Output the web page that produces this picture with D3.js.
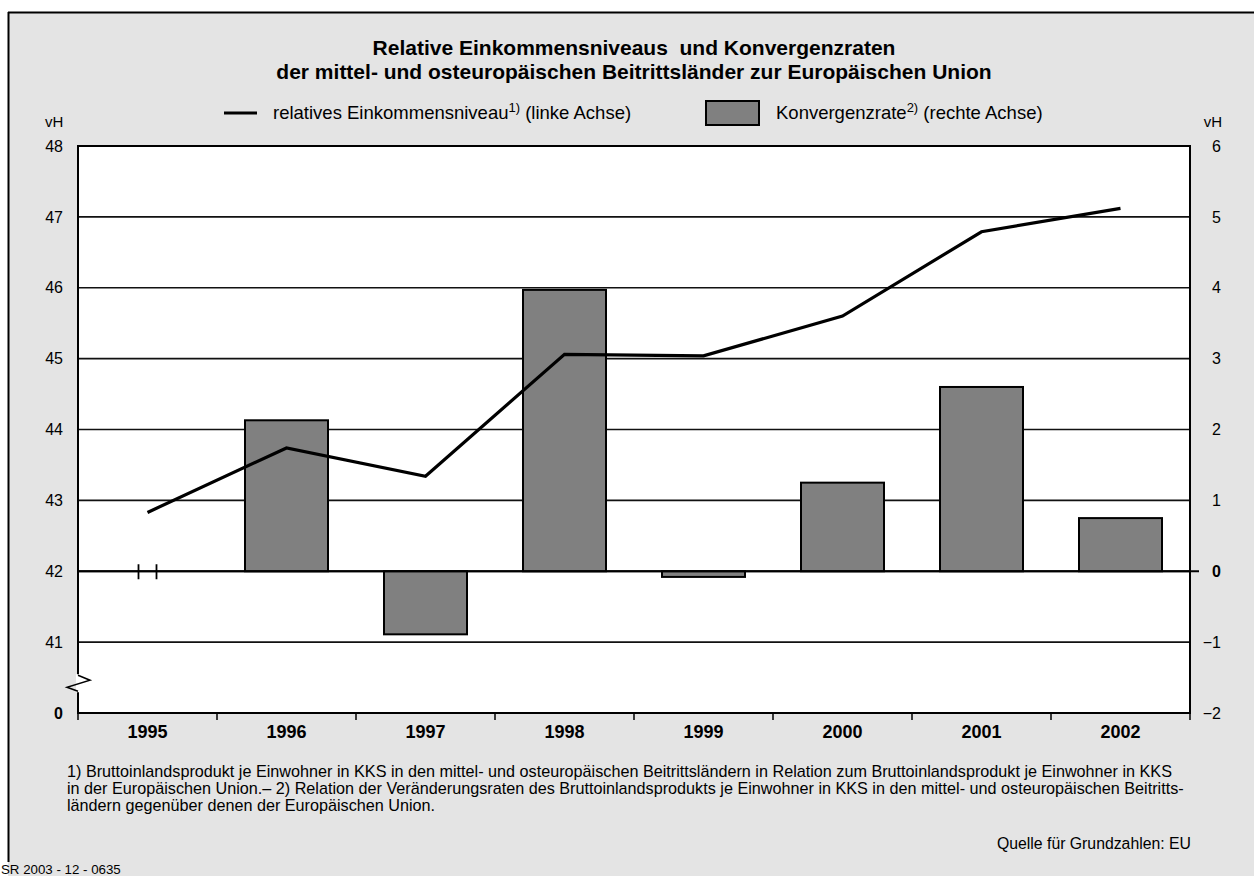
<!DOCTYPE html>
<html>
<head>
<meta charset="utf-8">
<script src="https://cdn.jsdelivr.net/npm/d3@7"></script>
<style>
  html, body { margin: 0; padding: 0; background: #fff; }
  svg { display: block; font-family: "Liberation Sans", Arial, Helvetica, sans-serif; }
</style>
</head>
<body>
<div id="chart"></div>
<script>
const years = ["1995", "1996", "1997", "1998", "1999", "2000", "2001", "2002"];
// relatives Einkommensniveau (linke Achse, vH)
const level = [42.83, 43.74, 43.34, 45.06, 45.04, 45.60, 46.79, 47.12];
// Konvergenzrate (rechte Achse, vH); 1995 ohne Wert
const rate = [null, 2.13, -0.89, 3.97, -0.08, 1.25, 2.60, 0.75];
const leftTicks = [40, 41, 42, 43, 44, 45, 46, 47, 48];
const leftTickLabels = ["0", "41", "42", "43", "44", "45", "46", "47", "48"];
const rightTicks = [-2, -1, 0, 1, 2, 3, 4, 5, 6];

const W = 1254, H = 876;
const plot = { left: 78, right: 1190, top: 146, bottom: 713 };
const FONT = "Liberation Sans, Arial, sans-serif";

const svg = d3.select("#chart").append("svg").attr("width", W).attr("height", H);

// background panel and frame
svg.append("rect").attr("x", 8).attr("y", 12).attr("width", W - 8).attr("height", H - 12).attr("fill", "#e4e4e4");
svg.append("line").attr("x1", 8).attr("x2", W).attr("y1", 12.5).attr("y2", 12.5).attr("stroke", "#000").attr("stroke-width", 2);
svg.append("line").attr("x1", 8.5).attr("x2", 8.5).attr("y1", 12).attr("y2", 862).attr("stroke", "#000").attr("stroke-width", 2);

const x = d3.scaleBand().domain(years).range([plot.left, plot.right]);
const yL = d3.scaleLinear().domain([40, 48]).range([plot.bottom, plot.top]);
const yR = d3.scaleLinear().domain([-2, 6]).range([plot.bottom, plot.top]);

// title
const title = svg.append("text").attr("x", 634).attr("text-anchor", "middle")
  .style("font-weight", "bold").style("font-size", "21px").style("white-space", "pre");
title.append("tspan").attr("x", 634).attr("y", 55).text("Relative Einkommensniveaus  und Konvergenzraten");
title.append("tspan").attr("x", 634).attr("y", 79).text("der mittel- und osteuropäischen Beitrittsländer zur Europäischen Union");

// legend
const lg = svg.append("g").style("font-size", "18.5px");
lg.append("line").attr("x1", 224).attr("x2", 257).attr("y1", 113).attr("y2", 113).attr("stroke", "#000").attr("stroke-width", 3);
const t1 = lg.append("text").attr("x", 273).attr("y", 119);
t1.append("tspan").text("relatives Einkommensniveau");
t1.append("tspan").attr("dy", -7).style("font-size", "13px").text("1)");
t1.append("tspan").attr("dy", 7).text(" (linke Achse)");
lg.append("rect").attr("x", 706).attr("y", 101).attr("width", 53).attr("height", 24)
  .attr("fill", "#808080").attr("stroke", "#000").attr("stroke-width", 2);
const t2 = lg.append("text").attr("x", 776).attr("y", 119);
t2.append("tspan").text("Konvergenzrate");
t2.append("tspan").attr("dy", -7).style("font-size", "13px").text("2)");
t2.append("tspan").attr("dy", 7).text(" (rechte Achse)");

// plot area
svg.append("rect").attr("x", plot.left).attr("y", plot.top)
  .attr("width", plot.right - plot.left).attr("height", plot.bottom - plot.top).attr("fill", "#fff");

// gridlines (left-axis integers inside the plot)
svg.append("g").selectAll("line").data(leftTicks.filter(d => d > 40 && d < 48)).join("line")
  .attr("x1", plot.left).attr("x2", plot.right)
  .attr("y1", d => yL(d)).attr("y2", d => yL(d))
  .attr("stroke", "#111").attr("stroke-width", d => d === 42 ? 2 : 1.6);

// bars on the right axis
const bw = 83;
svg.append("g").selectAll("rect").data(years.map((y, i) => ({ y, v: rate[i] })).filter(d => d.v !== null)).join("rect")
  .attr("x", d => x(d.y) + x.bandwidth() / 2 - bw / 2)
  .attr("y", d => yR(Math.max(0, d.v)))
  .attr("width", bw)
  .attr("height", d => Math.abs(yR(d.v) - yR(0)))
  .attr("fill", "#808080").attr("stroke", "#000").attr("stroke-width", 2);

// zero line on top of bars, with tick at right axis
svg.append("line").attr("x1", plot.left).attr("x2", plot.right + 9)
  .attr("y1", yR(0)).attr("y2", yR(0)).attr("stroke", "#000").attr("stroke-width", 2.2);

// break marks at 1995 on the zero line
svg.append("g").selectAll("line").data([-9, 9]).join("line")
  .attr("x1", d => x("1995") + x.bandwidth() / 2 + d).attr("x2", d => x("1995") + x.bandwidth() / 2 + d)
  .attr("y1", yR(0) - 7).attr("y2", yR(0) + 8)
  .attr("stroke", "#000").attr("stroke-width", 1.8);

// line series
svg.append("path").datum(level)
  .attr("fill", "none").attr("stroke", "#000").attr("stroke-width", 3.2).attr("stroke-linejoin", "miter")
  .attr("d", d3.line().x((d, i) => x(years[i]) + x.bandwidth() / 2).y(d => yL(d)));

// plot frame
svg.append("rect").attr("x", plot.left).attr("y", plot.top)
  .attr("width", plot.right - plot.left).attr("height", plot.bottom - plot.top)
  .attr("fill", "none").attr("stroke", "#000").attr("stroke-width", 2);

// x axis: separators and labels
const xAxis = svg.append("g").attr("transform", `translate(0,${plot.bottom})`)
  .call(d3.axisBottom(x).tickSize(0));
xAxis.select(".domain").remove();
xAxis.selectAll("text").attr("y", 25).attr("dy", null).style("font-size", "18px").style("font-weight", "bold")
  .style("font-family", FONT).attr("fill", "#000");
svg.append("g").selectAll("line").data([plot.left, ...years.slice(1).map(d => x(d)), plot.right]).join("line")
  .attr("x1", d => d).attr("x2", d => d).attr("y1", plot.bottom).attr("y2", plot.bottom + 7)
  .attr("stroke", "#000").attr("stroke-width", 1.5);

// left axis
const left = svg.append("g").attr("transform", `translate(${plot.left},0)`)
  .call(d3.axisLeft(yL).tickValues(leftTicks).tickSize(0).tickPadding(15)
    .tickFormat((d, i) => leftTickLabels[i]));
left.select(".domain").remove();
left.selectAll("text").style("font-size", "16px").style("font-family", FONT)
  .attr("fill", "#000").style("font-weight", d => d === 40 ? "bold" : "normal");

// right axis
const right = svg.append("g").attr("transform", `translate(${plot.right},0)`)
  .call(d3.axisRight(yR).tickValues(rightTicks).tickSize(0).tickPadding(31));
right.select(".domain").remove();
right.selectAll("text").attr("text-anchor", "end").style("font-size", "16px")
  .style("font-family", FONT)
  .attr("fill", "#000").style("font-weight", d => d === 0 ? "bold" : "normal");

// axis break on left axis
const brk = d3.line();
const by = yL(40) + (yL(41) - yL(40)) * 0.42;
svg.append("rect").attr("x", plot.left - 2).attr("y", by - 9).attr("width", 4).attr("height", 18).attr("fill", "#fff");
svg.append("path").attr("d", brk([[plot.left, by - 8], [plot.left + 12, by - 3], [plot.left - 11, by + 4], [plot.left, by + 8]]))
  .attr("fill", "none").attr("stroke", "#000").attr("stroke-width", 1.5);

// units
svg.append("text").attr("x", 45).attr("y", 127).style("font-size", "15px").text("vH");
svg.append("text").attr("x", 1222).attr("y", 127).attr("text-anchor", "end").style("font-size", "15px").text("vH");

// footnotes
const fn = svg.append("text").attr("x", 67).style("font-size", "16.2px");
[
  "1) Bruttoinlandsprodukt je Einwohner in KKS in den mittel- und osteuropäischen Beitrittsländern in Relation zum Bruttoinlandsprodukt je Einwohner in KKS",
  "in der Europäischen Union.– 2) Relation der Veränderungsraten des Bruttoinlandsprodukts je Einwohner in KKS in den mittel- und osteuropäischen Beitritts-",
  "ländern gegenüber denen der Europäischen Union."
].forEach((s, i) => fn.append("tspan").attr("x", 67).attr("y", 777 + i * 17).text(s));

svg.append("text").attr("x", 1191).attr("y", 849).attr("text-anchor", "end").style("font-size", "15.8px")
  .text("Quelle für Grundzahlen: EU");
svg.append("text").attr("x", 1).attr("y", 874).style("font-size", "13.3px").text("SR 2003 - 12 - 0635");
</script>
</body>
</html>
